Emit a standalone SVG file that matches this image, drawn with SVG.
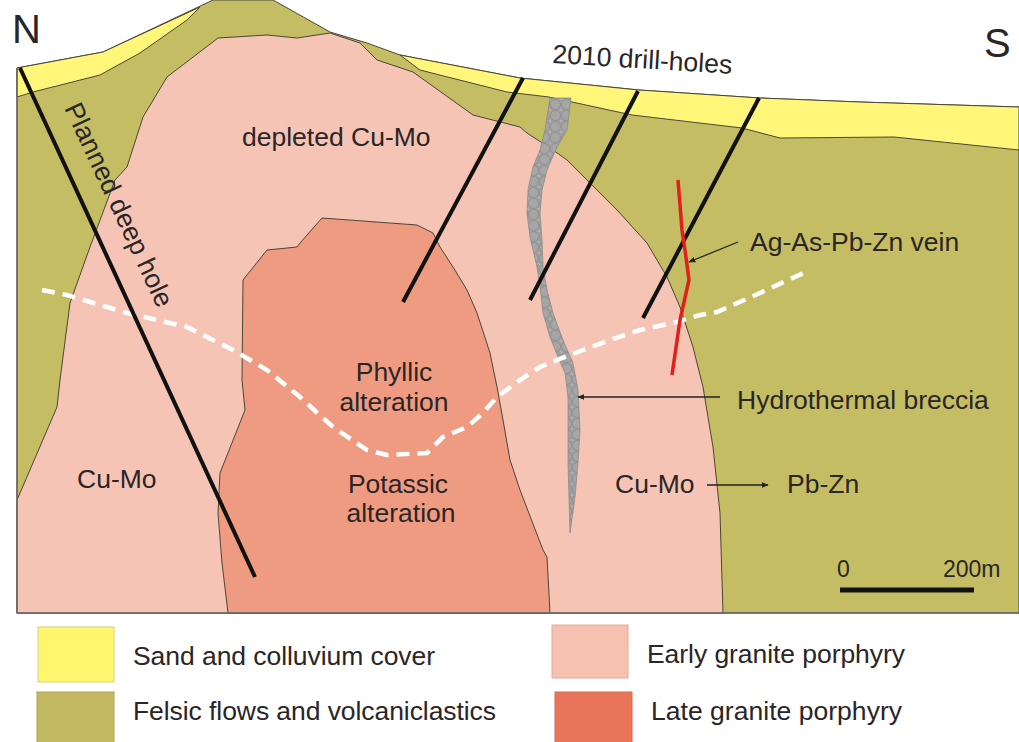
<svg xmlns="http://www.w3.org/2000/svg" width="1019" height="742" viewBox="0 0 1019 742">
  <style>
    .unit { stroke: #4a4638; stroke-width: 1; stroke-linejoin: round; }
    .cover { fill: #fff67a; }
    .felsic { fill: #c4bd64; }
    .early { fill: #f6c4b5; }
    .late { fill: #ef9b82; }
    .hole { stroke: #111; stroke-width: 4; fill: none; }
    .lbl { font-family: "Liberation Sans", Arial, sans-serif; font-size: 26.5px; fill: #2a2526; }
    .ptr { stroke: #222; stroke-width: 1.3; fill: none; }
  </style>
  <defs>
    <pattern id="clasts" width="11" height="11" patternUnits="userSpaceOnUse">
      <rect width="11" height="11" fill="#a0a0a0"/>
      <circle cx="5.5" cy="5.5" r="5" fill="#a6a6a6" stroke="#888" stroke-width="0.7"/>
      <circle cx="0" cy="0" r="1" fill="#e9c0b4"/>
      <circle cx="11" cy="11" r="1" fill="#e9c0b4"/>
    </pattern>
    <marker id="tip" viewBox="0 0 10 10" refX="9" refY="5" markerWidth="7" markerHeight="7" orient="auto" markerUnits="userSpaceOnUse">
      <path d="M0,1 L10,5 L0,9 Z" fill="#222"/>
    </marker>
  </defs>

  <rect width="1019" height="742" fill="#fff"/>

  <!-- cross-section -->
  <g id="section">
    <!-- felsic flows and volcaniclastics: whole section under the topographic surface -->
    <path id="felsic-flows" class="felsic unit" d="M17,68 L103,52 L213,0 L273,0 L330,32 L367,43 L400,55 L520,78 L639,90 L760,98 L860,102 L1019,107 L1019,613 L17,613 Z"/>
    <!-- sand and colluvium cover -->
    <path id="cover-north" class="cover unit" d="M17,68 L103,52 L200,7 L187,20 L140,53 L100,75 L33,92 L17,97 Z"/>
    <path id="cover-south" class="cover unit" d="M400,55 L520,78 L639,90 L760,98 L860,102 L1019,107 L1019,150 L894,137 L780,138 L742,128 L632,115 L549,97 L507,92 L420,70 Z"/>
    <!-- early granite porphyry -->
    <path id="early-porphyry" class="early unit" d="M218,38 L267,35 L297,38 L330,33 L360,43 L377,60 L413,72 L473,115 L520,127 L527,133 L553,150 L567,160 L597,190 L617,210 L647,243 L667,277 L680,307 L693,347 L703,387 L713,447 L720,513 L723,613 L17,613 L17,500 L57,407 L60,380 L70,303 L90,247 L115,180 L127,167 L143,117 L167,77 Z"/>
    <!-- late granite porphyry -->
    <path id="late-porphyry" class="late unit" d="M322,218 L417,225 L433,233 L440,247 L453,267 L467,290 L477,313 L490,353 L497,387 L503,420 L510,460 L520,490 L543,550 L547,557 L550,613 L228,613 L222,563 L218,513 L220,473 L245,410 L242,380 L243,280 L267,250 L297,247 L300,243 Z"/>
    <!-- hydrothermal breccia -->
    <path id="breccia" fill="url(#clasts)" stroke="#8a8a8a" stroke-width="0.8" d="M550,98 L571,98 L567,130 L557,147 L547,170 L542,190 L540,213 L542,240 L543,267 L547,290 L553,313 L563,340 L573,363 L578,390 L580,430 L578,463 L575,497 L570,533 L568,463 L568,430 L568,397 L565,373 L558,357 L550,337 L543,313 L540,287 L537,267 L530,237 L527,213 L528,190 L533,167 L540,150 L545,130 Z"/>
    <!-- section frame -->
    <path d="M17,68 L17,613 L1019,613" fill="none" stroke="#6b6b6b" stroke-width="1.5"/>
  </g>

  <!-- phyllic / potassic boundary -->
  <path id="alteration-front" d="M42,290 L67,295 L127,313 L187,327 L233,350 L267,370 L300,397 L333,427 L367,450 L387,455 L427,453 L443,437 L467,427 L483,413 L497,397 L520,380 L540,367 L557,360 L583,350 L610,340 L640,330 L673,323 L700,315 L717,312 L760,293 L810,270" fill="none" stroke="#fff" stroke-width="4.5" stroke-dasharray="13 8"/>

  <!-- drill holes -->
  <g id="drill-holes">
    <line id="planned-hole" class="hole" x1="20" y1="68" x2="255" y2="577"/>
    <line id="hole-1" class="hole" x1="523" y1="78" x2="403" y2="302"/>
    <line id="hole-2" class="hole" x1="638" y1="91" x2="530" y2="300"/>
    <line id="hole-3" class="hole" x1="759" y1="98" x2="643" y2="318"/>
  </g>

  <!-- Ag-As-Pb-Zn vein -->
  <polyline id="vein" points="678,180 682,230 685,250 689,280 680,320 672,375" fill="none" stroke="#e0201b" stroke-width="3.5"/>

  <!-- pointers -->
  <g id="connectors">
    <line class="ptr" x1="738" y1="242" x2="689" y2="262" marker-end="url(#tip)"/>
    <line class="ptr" x1="720" y1="397" x2="578" y2="397" marker-end="url(#tip)"/>
    <line class="ptr" x1="707" y1="485" x2="768" y2="485" marker-end="url(#tip)"/>
  </g>

  <!-- labels -->
  <g id="labels">
    <text class="lbl" x="12" y="43" style="font-size:40px">N</text>
    <text class="lbl" x="984" y="57" style="font-size:40px">S</text>
    <text class="lbl" transform="translate(552,63) rotate(3.4)" textLength="180">2010 drill-holes</text>
    <text class="lbl" transform="translate(64,108) rotate(65)" textLength="222">Planned deep hole</text>
    <text class="lbl" x="242" y="146">depleted Cu-Mo</text>
    <text class="lbl" x="394" y="381" text-anchor="middle">Phyllic</text>
    <text class="lbl" x="394" y="411" text-anchor="middle">alteration</text>
    <text class="lbl" x="398" y="493" text-anchor="middle">Potassic</text>
    <text class="lbl" x="401" y="522" text-anchor="middle">alteration</text>
    <text class="lbl" x="77" y="488">Cu-Mo</text>
    <text class="lbl" x="615" y="493">Cu-Mo</text>
    <text class="lbl" x="787" y="493">Pb-Zn</text>
    <text class="lbl" x="737" y="409">Hydrothermal breccia</text>
    <text class="lbl" x="750" y="251">Ag-As-Pb-Zn vein</text>
  </g>

  <!-- scale bar -->
  <g id="scale">
    <text class="lbl" x="837" y="577" style="font-size:23px">0</text>
    <text class="lbl" x="943" y="577" style="font-size:23px">200m</text>
    <line x1="840" y1="590" x2="974" y2="590" stroke="#111" stroke-width="5"/>
  </g>

  <!-- legend -->
  <g id="legend">
    <g id="legend-cover">
      <rect x="38" y="627" width="76" height="55" fill="#fff66e" stroke="#d8d27a" stroke-width="1"/>
      <text class="lbl" x="133" y="665" textLength="302">Sand and colluvium cover</text>
    </g>
    <g id="legend-felsic">
      <rect x="37" y="692" width="77" height="55" fill="#c2b960" stroke="#a9a25a" stroke-width="1"/>
      <text class="lbl" x="133" y="720" textLength="363">Felsic flows and volcaniclastics</text>
    </g>
    <g id="legend-early">
      <rect x="552" y="625" width="76" height="53" fill="#f6c1b1" stroke="#e3aa9a" stroke-width="1"/>
      <text class="lbl" x="647" y="663" textLength="258">Early granite porphyry</text>
    </g>
    <g id="legend-late">
      <rect x="555" y="692" width="77" height="55" fill="#e8745a" stroke="#d86a52" stroke-width="1"/>
      <text class="lbl" x="651" y="720" textLength="251">Late granite porphyry</text>
    </g>
  </g>
</svg>
